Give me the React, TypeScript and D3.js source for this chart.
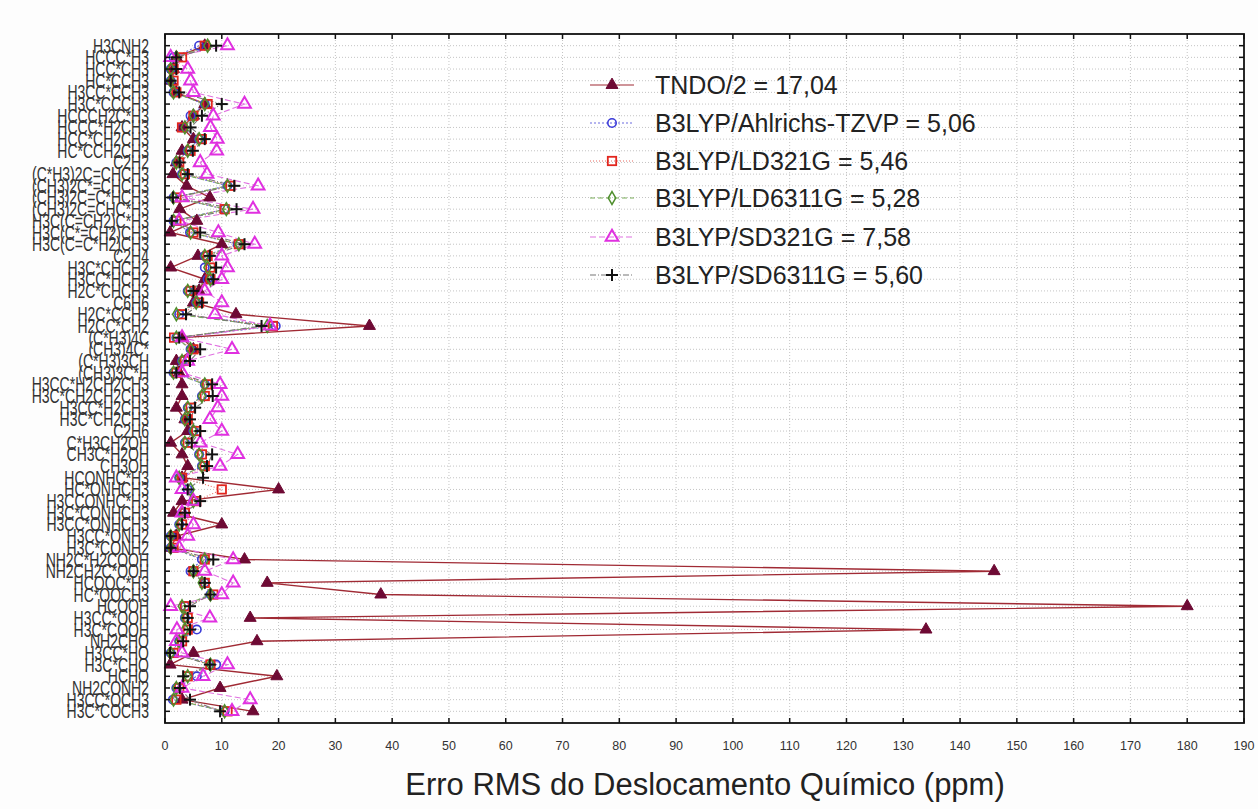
import React from 'react';
import * as d3 from 'd3';

// Molecule / carbon-site labels, top to bottom
const categories = [
  'H3CNH2', 'HCCC*H3', 'HCC*CH3', 'HC*CCH3', 'H3CC*CCH3', 'H3C*CCCH3',
  'HCCCH2C*H3', 'HCCC*H2CH3', 'HCC*CH2CH3', 'HC*CCH2CH3', 'C2H2',
  '(C*H3)2C=CHCH3', '(CH3)2C*=CHCH3', '(CH3)2C=C*HCH3', '(CH3)2C=CHC*H3',
  'H3C(C=CH2)C*H3', 'H3C(C*=CH2)CH3', 'H3C(C=C*H2)CH3', 'C2H4',
  'H3C*CHCH2', 'H3CC*HCH2', 'H2C*CHCH3', 'C6H6', 'H2C*CCH2', 'H2CC*CH2',
  '(C*H3)4C', '(CH3)4C*', '(C*H3)3CH', '(CH3)3C*H',
  'H3CC*H2CH2CH3', 'H3C*CH2CH2CH3', 'H3CC*H2CH3', 'H3C*CH2CH3', 'C2H6',
  'C*H3CH2OH', 'CH3C*H2OH', 'CH3OH', 'HCONHC*H3', 'HC*ONHCH3',
  'H3CCONHC*H3', 'H3C*CONHCH3', 'H3CC*ONHCH3', 'H3CC*ONH2', 'H3C*CONH2',
  'NH2C*H2COOH', 'NH2CH2C*OOH', 'HCOOC*H3', 'HC*OOCH3', 'HCOOH',
  'H3CC*OOH', 'H3C*COOH', 'NH2CHO', 'H3CC*HO', 'H3C*CHO', 'HCHO',
  'NH2CONH2', 'H3CC*OCH3', 'H3C*COCH3',
];

// RMS error (ppm) per method
const tndo = [
  7, 2, 1.5, 1, 2, 7, 5, 3, 5, 3, 2, 1.4, 3.8, 7.9, 2.6, 5.6, 0.9, 10, 5.8,
  1, 7, 6, 5, 12.5, 36, 3, 5, 2, 2.5, 3, 3, 2, 3.5, 4, 1, 3, 4, 3, 20, 3,
  1.5, 10, 2, 1, 14, 146, 18, 38, 180, 15, 134, 16.2, 5, 0.9, 19.7, 9.7, 3, 15.5,
];
const ahlrichs = [
  6, 1.5, 1, 1, 1.5, 7, 4.5, 3, 6, 4, 2, 3, 11, 1.5, 10.5, 1.5, 4.4, 12.8, 7,
  7, 7.5, 4, 5.5, 2.5, 19.5, 2, 4.5, 3, 1.5, 7, 6.5, 4, 3.5, 5, 3.5, 6, 6.5, 2.5, 4, 5,
  3, 2.5, 1, 1, 6.5, 4.5, 7, 8, 3.5, 3.5, 5.6, 2.5, 1, 9, 5.6, 2, 1.4, 10.5,
];
const ld321 = [
  7, 3, 1.5, 1.5, 2, 7.5, 5, 3, 6.5, 4.5, 2.5, 3.5, 11.5, 2, 10.5, 2, 5, 13, 7.5,
  8, 8, 4.5, 6, 3, 19, 1.6, 5, 3.5, 2, 7.4, 7, 4.5, 4, 5.5, 4, 6.5, 7, 3, 10, 5.5,
  3.5, 3, 1.5, 1.5, 7, 5, 7, 8.5, 3.5, 4, 4, 3, 1.5, 8, 4, 2.5, 2, 11,
];
const ld6311 = [
  7.5, 2, 1, 1, 1.5, 7, 5, 3.5, 6, 4, 2, 3, 11, 1.5, 10.8, 1.5, 4.5, 13, 7,
  7.5, 8, 4, 5.5, 2, 18, 2, 4.5, 3, 1.5, 7, 6.5, 4, 3.5, 5, 3.5, 6, 6.5, 2.5, 4.5, 5,
  3, 2.5, 1, 1, 7, 5, 6.5, 8, 3, 3.5, 3.5, 2.5, 1, 8, 4, 2, 1.5, 10.5,
];
const sd321 = [
  11, 1, 4, 4.5, 5, 14, 8.5, 8, 9.2, 9.1, 6.2, 7.4, 16.4, 3, 15.5, 2.5, 9.4, 15.8, 10,
  11, 10, 7, 10, 8.8, 18.5, 3, 11.8, 4, 3, 9.7, 10, 9.3, 7.9, 10, 6.2, 12.8, 9.7, 2, 3, 5,
  3, 5, 4, 2.5, 12, 7, 12, 10, 1, 7.9, 2.1, 2, 3, 11, 6.7, 3, 15, 11.8,
];
const sd6311 = [
  9, 2, 2, 1, 2.5, 10, 6.5, 4.5, 7, 4.9, 2.6, 4, 12.2, 1.4, 12.6, 1.2, 6.2, 14, 7.9,
  9, 8.5, 5, 6.5, 3.7, 17, 2.5, 6.2, 4.4, 2, 8.3, 8.4, 5.3, 4.4, 6.2, 4.7, 8.3, 7.4, 6.7, 4, 6.2,
  3.5, 3, 1, 1, 8.5, 5, 7, 8, 4.4, 4, 4.4, 3.2, 0.9, 7.9, 3.2, 2.6, 4.4, 9.7,
];

const xTicks = [0, 10, 20, 30, 40, 50, 60, 70, 80, 90, 100, 110, 120, 130, 140, 150, 160, 170, 180, 190];

type Marker = 'filledTriangle' | 'circle' | 'square' | 'diamond' | 'triangle' | 'plus';

const series: {
  label: string; values: number[]; color: string; lineColor: string;
  dash: string; marker: Marker;
}[] = [
  { label: 'TNDO/2 = 17,04', values: tndo, color: '#6e0a34', lineColor: '#a02a34', dash: '', marker: 'filledTriangle' },
  { label: 'B3LYP/Ahlrichs-TZVP = 5,06', values: ahlrichs, color: '#3a3ad8', lineColor: '#6a6ae0', dash: '2,2', marker: 'circle' },
  { label: 'B3LYP/LD321G = 5,46', values: ld321, color: '#e2261e', lineColor: '#e86a60', dash: '1,2', marker: 'square' },
  { label: 'B3LYP/LD6311G = 5,28', values: ld6311, color: '#4e8e2c', lineColor: '#7aae5a', dash: '5,3', marker: 'diamond' },
  { label: 'B3LYP/SD321G = 7,58', values: sd321, color: '#e030e0', lineColor: '#e070e0', dash: '6,3', marker: 'triangle' },
  { label: 'B3LYP/SD6311G = 5,60', values: sd6311, color: '#111111', lineColor: '#777777', dash: '6,2,1,2', marker: 'plus' },
];

const W = 1258;
const H = 809;
const left = 165;
const right = 1244;
const top = 34;
const bottom = 723;

const x = d3.scaleLinear().domain([0, 190]).range([left, right]);
const y = d3.scalePoint<string>().domain(categories).range([top, bottom]).padding(1);

const triFilled = d3.symbol(d3.symbolTriangle, 62)()!;
const triOpen = d3.symbol(d3.symbolTriangle, 70)()!;
const diamond = d3.symbol(d3.symbolDiamond, 48)()!;

function MarkerShape({ kind, cx, cy, color }: { kind: Marker; cx: number; cy: number; color: string }) {
  switch (kind) {
    case 'filledTriangle':
      return <path d={triFilled} transform={`translate(${cx},${cy})`} fill={color} stroke={color} strokeWidth={1} />;
    case 'circle':
      return <circle cx={cx} cy={cy} r={4.2} fill="none" stroke={color} strokeWidth={1.6} />;
    case 'square':
      return <rect x={cx - 4.2} y={cy - 4.2} width={8.4} height={8.4} fill="none" stroke={color} strokeWidth={1.8} />;
    case 'diamond':
      return <path d={diamond} transform={`translate(${cx},${cy})`} fill="none" stroke={color} strokeWidth={1.5} />;
    case 'triangle':
      return <path d={triOpen} transform={`translate(${cx},${cy})`} fill="none" stroke={color} strokeWidth={2} />;
    case 'plus':
      return (
        <g stroke={color} strokeWidth={2}>
          <line x1={cx - 6} x2={cx + 6} y1={cy} y2={cy} />
          <line x1={cx} x2={cx} y1={cy - 6} y2={cy + 6} />
        </g>
      );
  }
}

export default function App() {
  const line = d3.line<number>()
    .x((v) => x(v))
    .y((_, i) => y(categories[i])!);

  const legendY = [85, 123, 161, 198, 237, 275];

  return (
    <svg width={W} height={H} style={{ position: 'absolute', left: 0, top: 0, background: '#fdfdfd' }}
      fontFamily="'Liberation Sans', Arial, sans-serif">
      <rect x={left} y={top} width={right - left} height={bottom - top} fill="#ffffff" />

      {/* grid */}
      <g stroke="#c4c4c4" strokeWidth={1} strokeDasharray="1,2">
        {categories.map((c) => (
          <line key={c} x1={left} x2={right} y1={y(c)} y2={y(c)} />
        ))}
        {xTicks.slice(1, -1).map((t) => (
          <line key={t} x1={x(t)} x2={x(t)} y1={top} y2={bottom} />
        ))}
      </g>

      {/* series lines */}
      {series.map((s) => (
        <path key={s.label + '-line'} d={line(s.values)!} fill="none" stroke={s.lineColor}
          strokeWidth={s.dash ? 1.1 : 1.4} strokeDasharray={s.dash || undefined} />
      ))}

      {/* series markers */}
      {series.map((s) => (
        <g key={s.label + '-pts'}>
          {s.values.map((v, i) => (
            <MarkerShape key={i} kind={s.marker} cx={x(v)} cy={y(categories[i])!} color={s.color} />
          ))}
        </g>
      ))}

      {/* frame and ticks */}
      <rect x={left} y={top} width={right - left} height={bottom - top} fill="none" stroke="#111" strokeWidth={1.8} />
      <g stroke="#111" strokeWidth={1.5}>
        {xTicks.map((t) => (
          <g key={t}>
            <line x1={x(t)} x2={x(t)} y1={bottom} y2={bottom - 5} />
            <line x1={x(t)} x2={x(t)} y1={top} y2={top + 5} />
          </g>
        ))}
        {categories.map((c) => (
          <g key={c}>
            <line x1={left} x2={left + 5} y1={y(c)} y2={y(c)} />
            <line x1={right} x2={right - 5} y1={y(c)} y2={y(c)} />
          </g>
        ))}
      </g>

      {/* x tick labels */}
      <g fontSize={12.5} fill="#333" textAnchor="middle">
        {xTicks.map((t) => (
          <text key={t} x={x(t)} y={750}>{t}</text>
        ))}
      </g>

      {/* category labels */}
      <g fontSize={14} fill="#333" textAnchor="end">
        {categories.map((c) => (
          <text key={c} transform={`translate(149,${y(c)! + 7}) scale(1,1.5)`}>{c}</text>
        ))}
      </g>

      {/* axis title */}
      <text x={705} y={795} fontSize={31} fill="#222" textAnchor="middle">
        Erro RMS do Deslocamento Químico (ppm)
      </text>

      {/* legend */}
      {series.map((s, i) => (
        <g key={s.label + '-legend'}>
          <line x1={590} x2={634} y1={legendY[i]} y2={legendY[i]} stroke={s.lineColor}
            strokeWidth={1.1} strokeDasharray={s.dash || undefined} />
          <MarkerShape kind={s.marker} cx={612} cy={legendY[i]} color={s.color} />
          <text x={655} y={legendY[i] + 9} fontSize={25} fill="#222">{s.label}</text>
        </g>
      ))}
    </svg>
  );
}
